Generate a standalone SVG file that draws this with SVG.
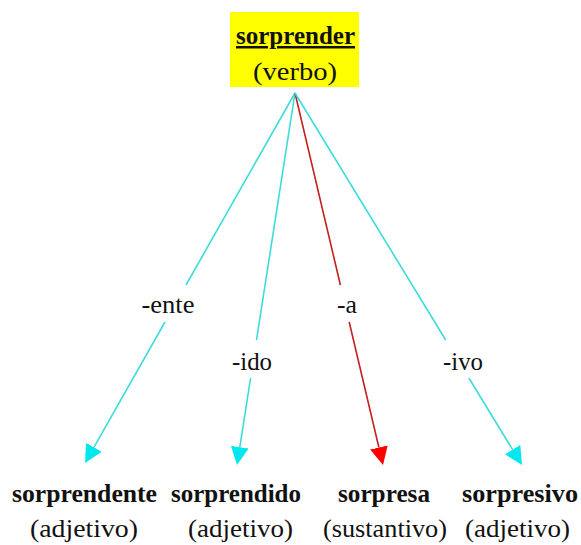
<svg xmlns="http://www.w3.org/2000/svg" width="581" height="545" viewBox="0 0 581 545">
<style>
text{font-family:"Liberation Serif","Times New Roman",serif;font-size:25px;fill:#111;text-anchor:middle}
.b{font-weight:bold}
.cy{stroke:#3ddcdc;stroke-width:1.6;fill:none}
.rd{stroke:#c42020;stroke-width:1.6;fill:none}
</style>
<defs>
<marker id="ac" markerUnits="userSpaceOnUse" markerWidth="18" markerHeight="18" refX="0" refY="9" orient="auto" viewBox="0 0 18 18"><path d="M0,0 L18,9 L0,18 z" fill="#00e8ee"/></marker>
<marker id="ar" markerUnits="userSpaceOnUse" markerWidth="18" markerHeight="18" refX="0" refY="9" orient="auto" viewBox="0 0 18 18"><path d="M0,0 L18,9 L0,18 z" fill="#ff0000"/></marker>
</defs>
<g id="root">
<rect x="230" y="12" width="129" height="75" fill="#ffff00"/>
<text x="295.5" y="44" class="b" text-decoration="underline" textLength="119" lengthAdjust="spacingAndGlyphs">sorprender</text>
<text x="295" y="80" textLength="84" lengthAdjust="spacingAndGlyphs">(verbo)</text>
</g>
<g id="connectors">
<path class="cy" d="M295,93 L186,285 M165,322 L93.9,447.3" marker-end="url(#ac)"/>
<path class="cy" d="M295,93 L256.5,340 M250.6,378 L239.8,447.2" marker-end="url(#ac)"/>
<path class="rd" d="M295,93 L340.4,285 M349.2,322 L378.9,447.5" marker-end="url(#ar)"/>
<path class="cy" d="M295,93 L445.7,340 M468.9,378 L512.6,449.6" marker-end="url(#ac)"/>
<text x="168" y="313" textLength="53" lengthAdjust="spacingAndGlyphs">-ente</text>
<text x="252" y="370" textLength="40" lengthAdjust="spacingAndGlyphs">-ido</text>
<text x="347" y="313" textLength="20" lengthAdjust="spacingAndGlyphs">-a</text>
<text x="463" y="370" textLength="40" lengthAdjust="spacingAndGlyphs">-ivo</text>
</g>
<g id="sorprendente">
<text x="84.5" y="502" class="b" textLength="145" lengthAdjust="spacingAndGlyphs">sorprendente</text>
<text x="84" y="537" textLength="108" lengthAdjust="spacingAndGlyphs">(adjetivo)</text>
</g>
<g id="sorprendido">
<text x="236" y="502" class="b" textLength="130" lengthAdjust="spacingAndGlyphs">sorprendido</text>
<text x="240.5" y="537" textLength="105" lengthAdjust="spacingAndGlyphs">(adjetivo)</text>
</g>
<g id="sorpresa">
<text x="384" y="502" class="b" textLength="92" lengthAdjust="spacingAndGlyphs">sorpresa</text>
<text x="385" y="537" textLength="124" lengthAdjust="spacingAndGlyphs">(sustantivo)</text>
</g>
<g id="sorpresivo">
<text x="520" y="502" class="b" textLength="116" lengthAdjust="spacingAndGlyphs">sorpresivo</text>
<text x="517.5" y="537" textLength="105" lengthAdjust="spacingAndGlyphs">(adjetivo)</text>
</g>
</svg>
